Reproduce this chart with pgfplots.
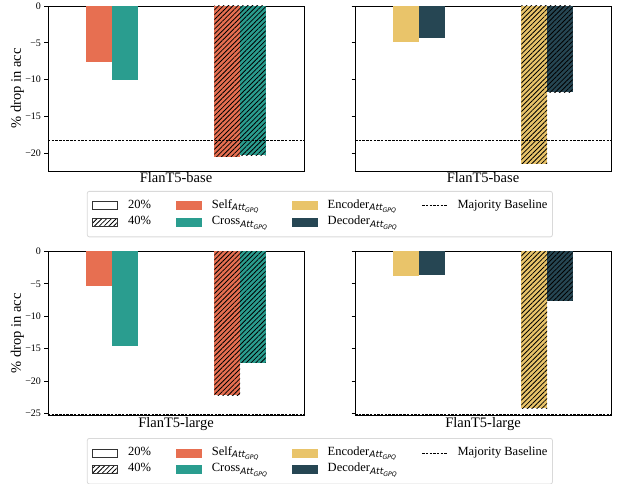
\documentclass[border=0pt]{standalone}
\usepackage{fontspec}
\setmainfont{Liberation Serif}
\newfontfamily\dvs{DejaVu Sans}
\usepackage{pgfplots}
\pgfplotsset{compat=1.18}
\usetikzlibrary{patterns.meta}
\definecolor{cself}{HTML}{E76F51}
\definecolor{ccross}{HTML}{2A9D8F}
\definecolor{cenc}{HTML}{E9C46A}
\definecolor{cdec}{HTML}{264653}
\newcommand{\att}{\raisebox{-2.5pt}{\fontsize{9}{9}\selectfont\dvs\itshape Att\raisebox{-1.8pt}{\fontsize{6.2}{6.2}\selectfont GPQ}}}
\tikzset{hatch/.style={postaction={pattern={Lines[angle=45,distance=3.4pt,line width=0.8pt]},pattern color=black}}}
\pgfplotsset{
  myax/.style={
    scale only axis, width=256pt, xmin=-0.5, xmax=1.5, xtick=\empty,
    ytick pos=left, tick align=outside, major tick length=3.5pt,
    tick style={black, line width=0.8pt},
    axis line style={black, line width=0.8pt},
    tick label style={font=\fontsize{10}{12}\selectfont},
    label style={font=\fontsize{14.5}{16}\selectfont},
    xlabel style={at={(axis description cs:0.5,0)}, anchor=north, inner sep=1.5pt},
    ylabel style={at={(axis description cs:-0.093,0.5)}, anchor=south, inner sep=0pt},
    ybar, bar width=0.2, clip=false,
  },
  mylegend/.style={
    legend columns=4, legend cell align=left,
    legend style={at={(1.062,#1)}, anchor=north, draw=black!15, rounded corners=2pt,
      line width=0.8pt, font=\fontsize{12.5}{14}\selectfont,
      nodes={inner sep=0pt, text depth=0.25em, text height=0.75em},
      /tikz/every odd column/.append style={column sep=10pt},
      /tikz/every even column/.append style={column sep=25pt},
      inner xsep=5pt, inner ysep=9.5pt, row sep=6.5pt},
  },
  base/.style={black, dash pattern=on 2.5pt off 1.2pt, line width=0.8pt, forget plot, sharp plot},
}
\newcommand{\legentries}{%
\addlegendimage{legend image code/.code={\draw[black!80,fill=white,line width=0.8pt,sharp corners] (0pt,-4pt) rectangle (25pt,4pt);}}
\addlegendentry{20\%}
\addlegendimage{legend image code/.code={\fill[cself,sharp corners] (0pt,-4pt) rectangle (25pt,4pt);}}
\addlegendentry{Self\att}
\addlegendimage{legend image code/.code={\fill[cenc,sharp corners] (0pt,-4pt) rectangle (25pt,4pt);}}
\addlegendentry{Encoder\att}
\addlegendimage{legend image code/.code={\draw[black, dash pattern=on 2.5pt off 1.2pt, line width=0.8pt] (0pt,0pt) -- (25pt,0pt);}}
\addlegendentry{Majority Baseline}
\addlegendimage{legend image code/.code={\draw[black!80,fill=white,line width=0.8pt,sharp corners,hatch] (0pt,-4pt) rectangle (25pt,4pt);}}
\addlegendentry{40\%}
\addlegendimage{legend image code/.code={\fill[ccross,sharp corners] (0pt,-4pt) rectangle (25pt,4pt);}}
\addlegendentry{Cross\att}
\addlegendimage{legend image code/.code={\fill[cdec,sharp corners] (0pt,-4pt) rectangle (25pt,4pt);}}
\addlegendentry{Decoder\att}
}
\begin{document}
\begin{tikzpicture}
\path[use as bounding box] (0,0) rectangle (619pt,484pt);
% ---------- top left
\begin{axis}[myax, at={(48pt,313pt)}, anchor=south west, height=165pt,
  ymin=-22.4, ymax=0, ytick={-20,-15,-10,-5,0}, yticklabels={−20,−15,−10,−5,0},
  xlabel={FlanT5-base}, ylabel={\% drop in acc}, mylegend=-0.121]
\addplot[fill=cself, draw=none, bar shift=-0.1, forget plot] coordinates {(0,-7.56)};
\addplot[fill=ccross, draw=none, bar shift=0.1, forget plot] coordinates {(0,-10.04)};
\addplot[fill=cself, draw=none, bar shift=-0.1, hatch, forget plot] coordinates {(1,-20.45)};
\addplot[fill=ccross, draw=none, bar shift=0.1, hatch, forget plot] coordinates {(1,-20.27)};
\addplot[base] coordinates {(-0.5,-18.27) (1.5,-18.27)};
\legentries
\end{axis}
% ---------- top right
\begin{axis}[myax, at={(355pt,313pt)}, anchor=south west, height=165pt,
  ymin=-22.4, ymax=0, ytick={-20,-15,-10,-5,0}, yticklabels={},
  xlabel={FlanT5-base}]
\addplot[fill=cenc, draw=none, bar shift=-0.1, forget plot] coordinates {(0,-4.84)};
\addplot[fill=cdec, draw=none, bar shift=0.1, forget plot] coordinates {(0,-4.30)};
\addplot[fill=cenc, draw=none, bar shift=-0.1, hatch, forget plot] coordinates {(1,-21.4)};
\addplot[fill=cdec, draw=none, bar shift=0.1, hatch, forget plot] coordinates {(1,-11.7)};
\addplot[base] coordinates {(-0.5,-18.27) (1.5,-18.27)};
\end{axis}
% ---------- bottom left
\begin{axis}[myax, at={(48pt,68.3pt)}, anchor=south west, height=164.3pt,
  ymin=-25.37, ymax=0, ytick={-25,-20,-15,-10,-5,0}, yticklabels={−25,−20,−15,−10,−5,0},
  xlabel={FlanT5-large}, ylabel={\% drop in acc}, mylegend=-0.136]
\addplot[fill=cself, draw=none, bar shift=-0.1, forget plot] coordinates {(0,-5.31)};
\addplot[fill=ccross, draw=none, bar shift=0.1, forget plot] coordinates {(0,-14.57)};
\addplot[fill=cself, draw=none, bar shift=-0.1, hatch, forget plot] coordinates {(1,-22.22)};
\addplot[fill=ccross, draw=none, bar shift=0.1, hatch, forget plot] coordinates {(1,-17.19)};
\addplot[base] coordinates {(-0.5,-25.12) (1.5,-25.12)};
\legentries
\end{axis}
% ---------- bottom right
\begin{axis}[myax, at={(355pt,68.3pt)}, anchor=south west, height=164.3pt,
  ymin=-25.37, ymax=0, ytick={-25,-20,-15,-10,-5,0}, yticklabels={},
  xlabel={FlanT5-large}]
\addplot[fill=cenc, draw=none, bar shift=-0.1, forget plot] coordinates {(0,-3.77)};
\addplot[fill=cdec, draw=none, bar shift=0.1, forget plot] coordinates {(0,-3.61)};
\addplot[fill=cenc, draw=none, bar shift=-0.1, hatch, forget plot] coordinates {(1,-24.23)};
\addplot[fill=cdec, draw=none, bar shift=0.1, hatch, forget plot] coordinates {(1,-7.62)};
\addplot[base] coordinates {(-0.5,-25.12) (1.5,-25.12)};
\end{axis}
\end{tikzpicture}
\end{document}
